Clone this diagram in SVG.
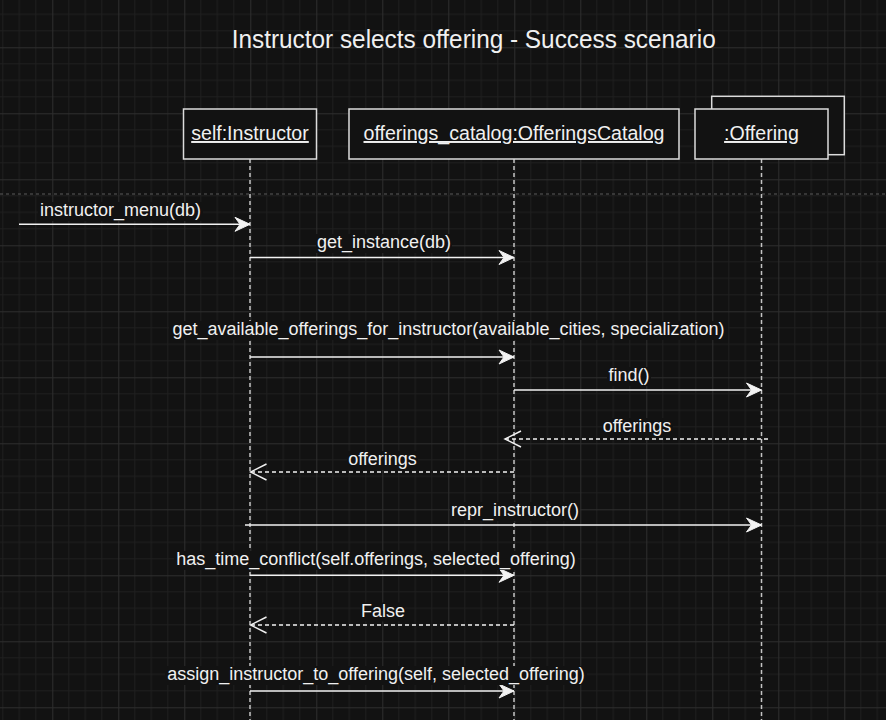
<svg xmlns="http://www.w3.org/2000/svg" width="886" height="720" viewBox="0 0 886 720">
<style>
text{font-family:"Liberation Sans",Arial,Helvetica,sans-serif;fill:#f0f0f0}
.title{font-size:25.5px}
.node{font-size:19.6px;text-decoration:underline}
.lbl{font-size:18px}
.lblbg{fill:#121212}
.box{fill:#121212;stroke:#dcdcdc;stroke-width:1.5}
.life{stroke:#c4c4c4;stroke-width:1.5;stroke-dasharray:4 3;fill:none}
.msg{stroke:#f2f2f2;stroke-width:1.5;fill:none}
.ret{stroke:#f2f2f2;stroke-width:1.5;fill:none;stroke-dasharray:4 3}
</style>
<defs>
<pattern id="grid" x="52.3" y="47.3" width="66" height="66" patternUnits="userSpaceOnUse">
<path d="M16.5,0V66M33,0V66M49.5,0V66M0,16.5H66M0,33H66M0,49.5H66" stroke="#1f1f1f" stroke-width="1" fill="none"/>
<path d="M0.5,0V66M0,0.5H66" stroke="#2e2e2e" stroke-width="1" fill="none"/>
</pattern>
<marker id="filled" viewBox="-16 -8 17 16" refX="0" refY="0" markerWidth="17" markerHeight="16" markerUnits="userSpaceOnUse" orient="auto">
<path d="M0,0L-15,-7L-10,0L-15,7Z" fill="#f2f2f2" stroke="#f2f2f2" stroke-width="1" stroke-linejoin="miter"/>
</marker>
<marker id="open" viewBox="-18 -10 20 20" refX="0" refY="0" markerWidth="20" markerHeight="20" markerUnits="userSpaceOnUse" orient="auto">
<path d="M-16,-8L0,0L-16,8" fill="none" stroke="#f2f2f2" stroke-width="1.5" stroke-dasharray="none"/>
</marker>
</defs>
<rect width="886" height="720" fill="#121212"/>
<rect width="886" height="720" fill="url(#grid)"/>
<line x1="0" y1="194" x2="886" y2="194" stroke="#5a5a5a" stroke-width="1" stroke-dasharray="3 3"/>
<text class="title" x="473.7" y="48" text-anchor="middle" textLength="484" lengthAdjust="spacingAndGlyphs">Instructor selects offering - Success scenario</text>
<g id="lifelines">
<line class="life" x1="250" y1="159" x2="250" y2="720"/>
<line class="life" x1="514" y1="159" x2="514" y2="720"/>
<line class="life" x1="761.5" y1="159" x2="761.5" y2="720"/>
</g>
<g id="self-instructor">
<rect class="box" x="183.5" y="109" width="133" height="50"/>
<text class="node" x="250" y="140" text-anchor="middle">self:Instructor</text>
</g>
<g id="offerings-catalog">
<rect class="box" x="349" y="109" width="330" height="50"/>
<text class="node" x="514" y="140" text-anchor="middle">offerings_catalog:OfferingsCatalog</text>
</g>
<g id="offering">
<rect class="box" x="711.7" y="96.3" width="132.6" height="58.4"/>
<rect class="box" x="695" y="109" width="133" height="50"/>
<text class="node" x="761.5" y="140" text-anchor="middle">:Offering</text>
</g>
<g id="connectors">
<line class="msg" x1="19" y1="224.3" x2="250" y2="224.3" marker-end="url(#filled)"/>
<rect class="lblbg" x="38" y="202" width="165" height="19"/>
<text class="lbl" x="120.5" y="216" text-anchor="middle">instructor_menu(db)</text>
<line class="msg" x1="250" y1="257.5" x2="514" y2="257.5" marker-end="url(#filled)"/>
<rect class="lblbg" x="316" y="234" width="136" height="19"/>
<text class="lbl" x="384" y="248" text-anchor="middle">get_instance(db)</text>
<line class="msg" x1="250" y1="357" x2="514" y2="357" marker-end="url(#filled)"/>
<rect class="lblbg" x="169" y="321" width="559" height="19"/>
<text class="lbl" x="448.5" y="335" text-anchor="middle">get_available_offerings_for_instructor(available_cities, specialization)</text>
<line class="msg" x1="514" y1="390" x2="761.5" y2="390" marker-end="url(#filled)"/>
<rect class="lblbg" x="607" y="367" width="44" height="19"/>
<text class="lbl" x="629" y="381" text-anchor="middle">find()</text>
<line class="ret" x1="768" y1="439" x2="505" y2="439" marker-end="url(#open)"/>
<rect class="lblbg" x="602" y="418" width="71" height="19"/>
<text class="lbl" x="637" y="432" text-anchor="middle">offerings</text>
<line class="ret" x1="514" y1="472" x2="250.5" y2="472" marker-end="url(#open)"/>
<rect class="lblbg" x="347" y="451" width="71" height="19"/>
<text class="lbl" x="382.5" y="465" text-anchor="middle">offerings</text>
<line class="msg" x1="245" y1="525" x2="761.5" y2="525" marker-end="url(#filled)"/>
<rect class="lblbg" x="450" y="502" width="130" height="19"/>
<text class="lbl" x="515" y="516" text-anchor="middle">repr_instructor()</text>
<line class="msg" x1="250" y1="575.3" x2="514" y2="575.3" marker-end="url(#filled)"/>
<rect class="lblbg" x="174" y="551" width="404" height="19"/>
<text class="lbl" x="376" y="565" text-anchor="middle">has_time_conflict(self.offerings, selected_offering)</text>
<line class="ret" x1="514" y1="625" x2="250.5" y2="625" marker-end="url(#open)"/>
<rect class="lblbg" x="361" y="602.5" width="44" height="19"/>
<text class="lbl" x="383" y="616.5" text-anchor="middle">False</text>
<line class="msg" x1="250" y1="691" x2="514" y2="691" marker-end="url(#filled)"/>
<rect class="lblbg" x="165" y="666" width="422" height="19"/>
<text class="lbl" x="376" y="680" text-anchor="middle">assign_instructor_to_offering(self, selected_offering)</text>
</g>
</svg>
